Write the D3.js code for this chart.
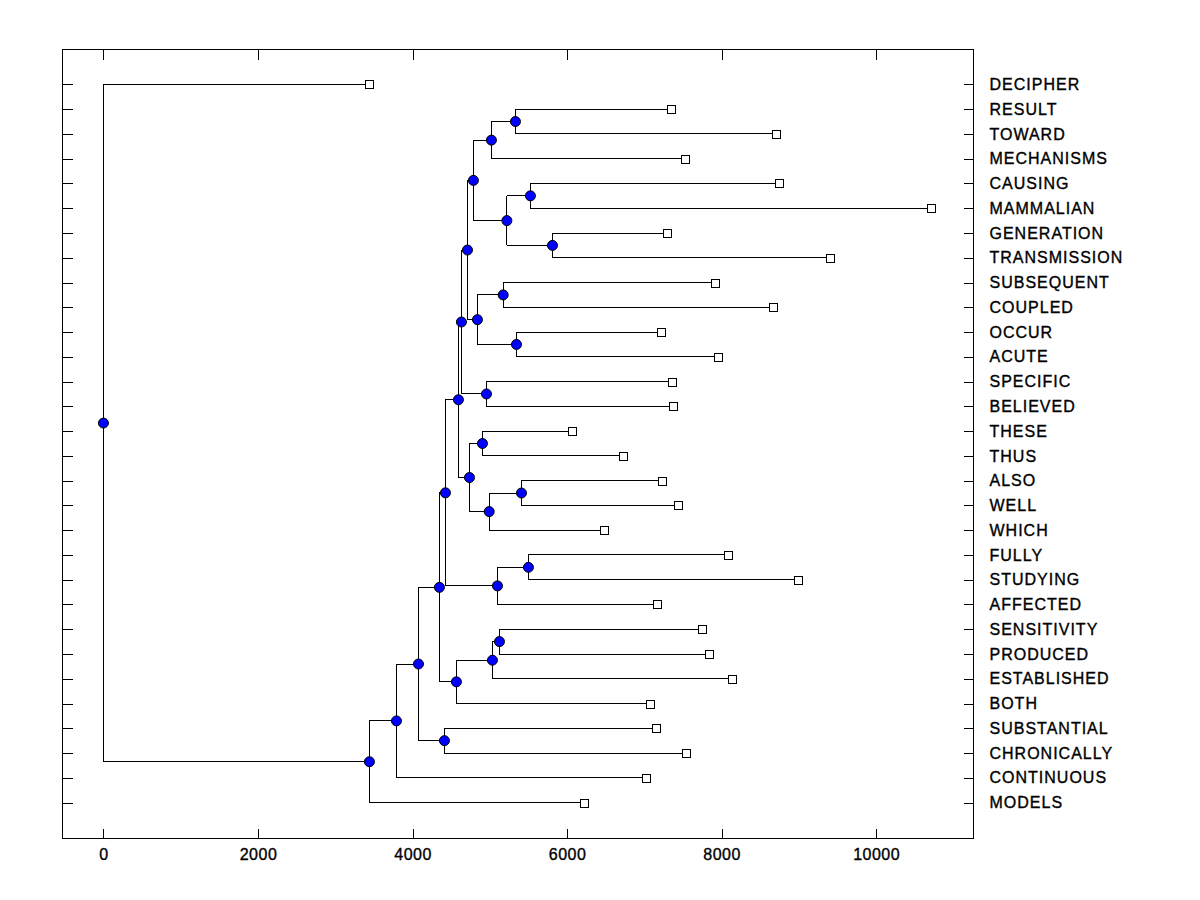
<!DOCTYPE html>
<html>
<head>
<meta charset="utf-8">
<script src="https://cdn.jsdelivr.net/npm/d3@7"></script>
<style>
  body { margin: 0; background: #fff; }
  text { font-family: "Liberation Sans", Arial, sans-serif; }
</style>
</head>
<body>
<svg id="chart" width="1200" height="900"></svg>
<script>
// leaves, top to bottom, with the height where each leaf ends
const leafNames = ["DECIPHER", "RESULT", "TOWARD", "MECHANISMS", "CAUSING", "MAMMALIAN",
  "GENERATION", "TRANSMISSION", "SUBSEQUENT", "COUPLED", "OCCUR", "ACUTE", "SPECIFIC",
  "BELIEVED", "THESE", "THUS", "ALSO", "WELL", "WHICH", "FULLY", "STUDYING", "AFFECTED",
  "SENSITIVITY", "PRODUCED", "ESTABLISHED", "BOTH", "SUBSTANTIAL", "CHRONICALLY",
  "CONTINUOUS", "MODELS"]
const leafHeights = [3442, 7351, 8710, 7532, 8749, 10716,
  7299, 9409, 7920, 8671, 7221, 7959, 7364,
  7377, 6070, 6730, 7234, 7441, 6484, 8089, 8994, 7170,
  7752, 7843, 8140, 7079, 7157, 7545,
  7027, 6225]

// merges, bottom up: "nK" refers to the K-th merge
const mergePairs = [
  ["RESULT", "TOWARD"], ["n0", "MECHANISMS"], ["CAUSING", "MAMMALIAN"],
  ["GENERATION", "TRANSMISSION"], ["n2", "n3"], ["n1", "n4"],
  ["SUBSEQUENT", "COUPLED"], ["OCCUR", "ACUTE"], ["n6", "n7"],
  ["n5", "n8"], ["SPECIFIC", "BELIEVED"], ["n9", "n10"],
  ["THESE", "THUS"], ["ALSO", "WELL"], ["n13", "WHICH"],
  ["n12", "n14"], ["n11", "n15"], ["FULLY", "STUDYING"],
  ["n17", "AFFECTED"], ["n16", "n18"], ["SENSITIVITY", "PRODUCED"],
  ["n20", "ESTABLISHED"], ["n21", "BOTH"], ["n19", "n22"],
  ["SUBSTANTIAL", "CHRONICALLY"], ["n23", "n24"], ["n25", "CONTINUOUS"],
  ["n26", "MODELS"], ["DECIPHER", "n27"]]
const mergeHeights = [5332, 5021, 5526,
  5811, 5221, 4788,
  5173, 5345, 4840,
  4711, 4957, 4633,
  4905, 5410, 4992,
  4737, 4594, 5500,
  5099, 4426, 5125,
  5034, 4568, 4348,
  4413, 4077, 3792,
  3442, 0]

const xTicks = [0, 2000, 4000, 6000, 8000, 10000]

// frame of the plot
const frame = { left: 62.5, right: 973.5, top: 49.5, bottom: 838.5 }

const svg = d3.select("#chart")

let x = d3.scaleLinear()
  .domain([-530, 11260])
  .range([frame.left, frame.right])

let y = d3.scaleLinear()
  .domain([-1.41, 30.45])
  .range([frame.top, frame.bottom])

// build the tree from the merge list
const lookup = {}
leafNames.forEach((name, i) => lookup[name] = { name: name, h: leafHeights[i], row: i })
mergePairs.forEach((pair, i) => {
  lookup["n" + i] = { name: "n" + i, h: mergeHeights[i], children: pair.map(k => lookup[k]) }
})
const root = d3.hierarchy(lookup["n" + (mergePairs.length - 1)])

// a merge sits half way between its two children
root.eachAfter(d => {
  d.row = d.children ? d3.mean(d.children, c => c.row) : d.data.row
})

// axes: ticks point inwards on all four sides
function inward(g) {
  g.select(".domain").remove()
  g.selectAll(".tick line").attr("stroke", "#000").attr("shape-rendering", "crispEdges")
  g.selectAll("text")
    .attr("fill", "#000")
    .attr("stroke", "#000")
    .attr("stroke-width", 0.35)
    .style("font-size", "16px")
}

svg.append("g")
  .attr("transform", `translate(0 ${frame.bottom})`)
  .call(d3.axisBottom(x).tickValues(xTicks).tickSizeInner(-10).tickSizeOuter(0)
    .tickPadding(10).tickFormat(d3.format("d")))
  .call(inward)
  .call(g => g.selectAll("text").style("letter-spacing", "0.5px"))

svg.append("g")
  .attr("transform", `translate(0 ${frame.top})`)
  .call(d3.axisTop(x).tickValues(xTicks).tickSizeInner(-10).tickSizeOuter(0).tickFormat(""))
  .call(inward)

svg.append("g")
  .attr("transform", `translate(${frame.left} 0)`)
  .call(d3.axisLeft(y).tickValues(d3.range(leafNames.length)).tickSizeInner(-10)
    .tickSizeOuter(0).tickFormat(""))
  .call(inward)

svg.append("g")
  .attr("transform", `translate(${frame.right} 0)`)
  .call(d3.axisRight(y).tickValues(d3.range(leafNames.length)).tickSizeInner(-10)
    .tickSizeOuter(0).tickPadding(16).tickFormat(i => leafNames[i]))
  .call(inward)
  .call(g => g.selectAll("text").style("letter-spacing", "1px"))

svg.append("rect")
  .attr("x", frame.left)
  .attr("y", frame.top)
  .attr("width", frame.right - frame.left)
  .attr("height", frame.bottom - frame.top)
  .attr("fill", "none")
  .attr("stroke", "#000")
  .attr("shape-rendering", "crispEdges")

const links = svg.append("g")
  .attr("stroke", "#000")
  .attr("stroke-width", 1)
  .attr("shape-rendering", "crispEdges")

// vertical bar of each merge
links.selectAll(".vbar")
  .data(root.descendants().filter(d => d.children))
  .enter()
  .append("line")
  .attr("x1", d => x(d.data.h))
  .attr("x2", d => x(d.data.h))
  .attr("y1", d => y(d.children[0].row))
  .attr("y2", d => y(d.children[1].row))

// horizontal branch from parent out to child
links.selectAll(".hbar")
  .data(root.descendants().filter(d => d.parent))
  .enter()
  .append("line")
  .attr("x1", d => x(d.parent.data.h))
  .attr("x2", d => x(d.data.h))
  .attr("y1", d => y(d.row))
  .attr("y2", d => y(d.row))

svg.append("g")
  .selectAll("rect")
  .data(root.leaves())
  .enter()
  .append("rect")
  .attr("x", d => Math.round(x(d.data.h)) - 3.5)
  .attr("y", d => Math.round(y(d.row)) - 3.5)
  .attr("width", 8)
  .attr("height", 8)
  .attr("fill", "#fff")
  .attr("stroke", "#000")

svg.append("g")
  .selectAll("circle")
  .data(root.descendants().filter(d => d.children))
  .enter()
  .append("circle")
  .attr("cx", d => x(d.data.h))
  .attr("cy", d => y(d.row))
  .attr("r", 5)
  .attr("fill", "#0000ff")
  .attr("stroke", "#000")
  .attr("stroke-width", 1)
</script>
</body>
</html>
